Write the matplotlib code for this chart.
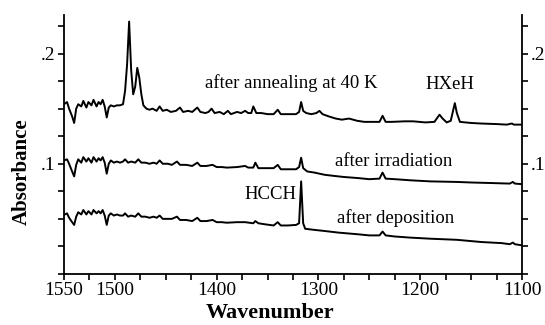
import matplotlib
matplotlib.use("Agg")
from matplotlib import pyplot as plt
import numpy as np

plt.rcParams["font.family"] = ["Liberation Serif", "DejaVu Serif"]

# spectrum after annealing at 40 K
wn_anneal = [1550, 1547, 1545, 1542, 1540, 1538, 1536, 1533, 1531, 1528, 1526, 1523, 1521, 1518,
             1516, 1514, 1512, 1510, 1508, 1506, 1504, 1501, 1498, 1495, 1492, 1490, 1488, 1486,
             1484, 1482, 1480, 1478, 1476, 1474, 1472, 1469, 1466, 1463, 1459, 1456, 1453, 1449,
             1445, 1440, 1436, 1433, 1428, 1424, 1419, 1416, 1411, 1408, 1405, 1402, 1397, 1393,
             1389, 1386, 1380, 1376, 1372, 1369, 1366, 1364, 1361, 1356, 1350, 1344, 1340, 1337,
             1330, 1322, 1319, 1317, 1315, 1312, 1307, 1302, 1299, 1296, 1290, 1283, 1277, 1270,
             1262, 1255, 1245, 1240, 1237, 1234, 1228, 1215, 1207, 1195, 1186, 1183, 1181, 1178,
             1174, 1170, 1168, 1166, 1164, 1161, 1150, 1140, 1125, 1115, 1110, 1108, 1100]
abs_anneal = [0.154, 0.156, 0.150, 0.143, 0.137, 0.150, 0.154, 0.152, 0.157, 0.151, 0.156, 0.153,
              0.158, 0.152, 0.156, 0.154, 0.158, 0.152, 0.142, 0.151, 0.153, 0.152, 0.153, 0.153,
              0.154, 0.166, 0.190, 0.229, 0.185, 0.163, 0.170, 0.187, 0.178, 0.163, 0.153, 0.150,
              0.149, 0.150, 0.148, 0.152, 0.148, 0.149, 0.147, 0.148, 0.151, 0.147, 0.148, 0.147,
              0.151, 0.147, 0.146, 0.147, 0.150, 0.146, 0.147, 0.145, 0.148, 0.145, 0.147, 0.146,
              0.148, 0.146, 0.146, 0.152, 0.146, 0.146, 0.145, 0.145, 0.149, 0.145, 0.145, 0.145,
              0.147, 0.156, 0.148, 0.146, 0.145, 0.146, 0.148, 0.145, 0.143, 0.141, 0.140, 0.141,
              0.139, 0.138, 0.138, 0.138, 0.1435, 0.138, 0.138, 0.1385, 0.1385, 0.1375, 0.138,
              0.142, 0.1445, 0.141, 0.1375, 0.139, 0.147, 0.155, 0.146, 0.138, 0.137, 0.1365,
              0.136, 0.1355, 0.1365, 0.1355, 0.1355]

# spectrum after irradiation
wn_irrad = [1550, 1547, 1545, 1542, 1540, 1538, 1536, 1533, 1531, 1528, 1526, 1523, 1521, 1518,
            1516, 1514, 1512, 1510, 1508, 1506, 1504, 1501, 1498, 1495, 1492, 1490, 1487, 1484,
            1480, 1477, 1474, 1470, 1466, 1462, 1459, 1456, 1453, 1448, 1444, 1439, 1436, 1430,
            1424, 1419, 1416, 1410, 1404, 1400, 1395, 1390, 1380, 1372, 1369, 1364, 1362, 1359,
            1352, 1344, 1340, 1337, 1330, 1322, 1319, 1317, 1315, 1311, 1304, 1294, 1285, 1275,
            1261, 1250, 1240, 1237, 1234, 1225, 1210, 1190, 1164, 1150, 1130, 1112, 1109, 1107, 1100]
abs_irrad = [0.103, 0.104, 0.100, 0.093, 0.0885, 0.099, 0.104, 0.101, 0.106, 0.102, 0.105, 0.101,
             0.106, 0.102, 0.105, 0.103, 0.106, 0.101, 0.091, 0.100, 0.103, 0.101, 0.102, 0.101,
             0.102, 0.104, 0.101, 0.102, 0.101, 0.104, 0.101, 0.101, 0.100, 0.101, 0.100, 0.103,
             0.100, 0.100, 0.099, 0.102, 0.099, 0.099, 0.098, 0.101, 0.098, 0.098, 0.099, 0.097,
             0.097, 0.0965, 0.097, 0.098, 0.0965, 0.0965, 0.101, 0.096, 0.096, 0.096, 0.099, 0.095,
             0.095, 0.095, 0.097, 0.1055, 0.096, 0.093, 0.092, 0.090, 0.089, 0.088, 0.087, 0.086,
             0.0865, 0.092, 0.0865, 0.086, 0.085, 0.084, 0.0835, 0.083, 0.0825, 0.082, 0.0835,
             0.082, 0.0815]

# spectrum after deposition
wn_depos = [1550, 1547, 1545, 1542, 1540, 1538, 1536, 1533, 1531, 1528, 1526, 1523, 1521, 1518,
            1516, 1514, 1512, 1510, 1508, 1506, 1504, 1501, 1498, 1495, 1492, 1490, 1487, 1484,
            1480, 1477, 1474, 1470, 1466, 1462, 1459, 1456, 1453, 1448, 1444, 1439, 1436, 1430,
            1424, 1419, 1416, 1410, 1404, 1400, 1395, 1390, 1380, 1372, 1364, 1362, 1359, 1352,
            1344, 1340, 1337, 1330, 1322, 1319, 1317, 1315, 1313, 1304, 1294, 1280, 1261, 1250,
            1240, 1237, 1234, 1225, 1210, 1190, 1164, 1140, 1120, 1112, 1109, 1107, 1100]
abs_depos = [0.0536, 0.055, 0.051, 0.047, 0.0445, 0.052, 0.056, 0.054, 0.058, 0.054, 0.057, 0.054,
             0.058, 0.055, 0.057, 0.055, 0.058, 0.053, 0.0445, 0.053, 0.055, 0.053, 0.054, 0.053,
             0.053, 0.055, 0.052, 0.053, 0.052, 0.055, 0.052, 0.052, 0.051, 0.052, 0.051, 0.053,
             0.050, 0.050, 0.050, 0.052, 0.049, 0.049, 0.048, 0.051, 0.048, 0.048, 0.049, 0.047,
             0.047, 0.0465, 0.047, 0.047, 0.046, 0.048, 0.046, 0.045, 0.044, 0.047, 0.044, 0.044,
             0.0445, 0.046, 0.084, 0.046, 0.041, 0.040, 0.039, 0.0375, 0.036, 0.035, 0.035, 0.0385,
             0.035, 0.034, 0.033, 0.032, 0.031, 0.029, 0.028, 0.027, 0.0285, 0.027, 0.026]

x_ticks = [1550, 1500, 1400, 1300, 1200, 1100]
x_ticklabels = ["1550", "1500", "1400", "1300", "1200", "1100"]
y_ticks = [0.1, 0.2]
y_ticklabels = [".1", ".2"]

fig = plt.figure(figsize=(5.45, 3.25), dpi=100)
ax = fig.add_axes([0.1174, 0.157, 0.8404, 0.797])

for wn, ab in [(wn_anneal, abs_anneal), (wn_irrad, abs_irrad), (wn_depos, abs_depos)]:
    ax.plot(wn, ab, color="black", linewidth=1.4)

ax.set_xlim(1550, 1100)
ax.set_ylim(0, 0.235)

# ticks every 25 cm-1 and every .025, labels only on a few
xt = np.arange(1100, 1551, 25)
ax.set_xticks(xt)
ax.set_xticklabels([x_ticklabels[x_ticks.index(t)] if t in x_ticks else "" for t in xt])
yt = np.round(np.arange(0, 0.2351, 0.025), 3)
ax.set_yticks(yt)
ax.set_yticklabels([y_ticklabels[y_ticks.index(t)] if t in y_ticks else "" for t in yt])
ax.tick_params(axis="both", direction="out", length=4, width=1.2, labelsize=14, pad=2,
               right=True, labelright=True)

ax.spines["top"].set_visible(False)
for s in ["left", "right", "bottom"]:
    ax.spines[s].set_linewidth(1.3)

# axis titles sit a bit left of the axes centre in the original
fig.text(270 / 545, 1 - 313 / 325, "Wavenumber", fontsize=16, fontweight="bold",
         ha="center", va="center")
fig.text(22 / 545, 1 - 172 / 325, "Absorbance", fontsize=15, fontweight="bold",
         ha="center", va="center", rotation=90)

# annotations
ax.text(1411.5, 0.1736, "after annealing at 40 K", fontsize=13.5, va="center", ha="left")
ax.text(1195, 0.172, "HXeH", fontsize=13.5, va="center", ha="left")
ax.text(1283.5, 0.1018, "after irradiation", fontsize=13.5, va="center", ha="left")
ax.text(1322, 0.0718, "HCCH", fontsize=13.5, va="center", ha="right")
ax.text(1281.5, 0.051, "after deposition", fontsize=13.5, va="center", ha="left")

fig.savefig("out.png", dpi=100)
